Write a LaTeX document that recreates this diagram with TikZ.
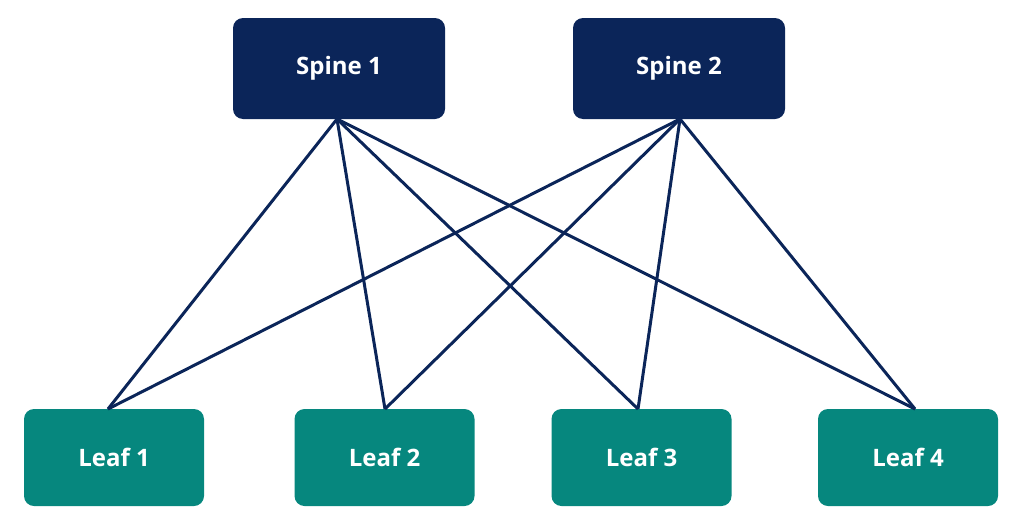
\documentclass[tikz,border=0pt]{standalone}
\usepackage{fontspec}
\setmainfont{Open Sans}
\definecolor{spinenavy}{HTML}{0B2559}
\definecolor{leafteal}{HTML}{06877E}
\tikzset{
  spine/.style={fill=spinenavy, rounded corners=10pt, minimum width=212pt, minimum height=101pt, text=white, font=\fontsize{24}{28}\selectfont\bfseries},
  leaf/.style={fill=leafteal, rounded corners=10pt, minimum width=180pt, minimum height=97pt, text=white, font=\fontsize{24}{28}\selectfont\bfseries},
  link/.style={draw=spinenavy, line width=3pt}
}
\begin{document}
\begin{tikzpicture}[x=1pt, y=-1pt]
  \useasboundingbox (0,0) rectangle (1024,525);
  \node[spine] (s1) at (339,68.5) {Spine 1};
  \node[spine] (s2) at (679,68.5) {Spine 2};
  \node[leaf] (l1) at (114,457.5) {Leaf 1};
  \node[leaf] (l2) at (384.5,457.5) {Leaf 2};
  \node[leaf] (l3) at (641.5,457.5) {Leaf 3};
  \node[leaf] (l4) at (908,457.5) {Leaf 4};
  % links from each spine to every leaf
  \coordinate (t1) at (108,409);
  \coordinate (t2) at (385,409);
  \coordinate (t3) at (638,409);
  \coordinate (t4) at (915,409);
  \coordinate (b1) at (337,119);
  \coordinate (b2) at (680,119);
  \begin{scope}[on background layer/.try]
    \foreach \s in {b1,b2}
      \foreach \t in {t1,t2,t3,t4}
        \path[link] (\s) -- (\t);
  \end{scope}
\end{tikzpicture}
\end{document}
